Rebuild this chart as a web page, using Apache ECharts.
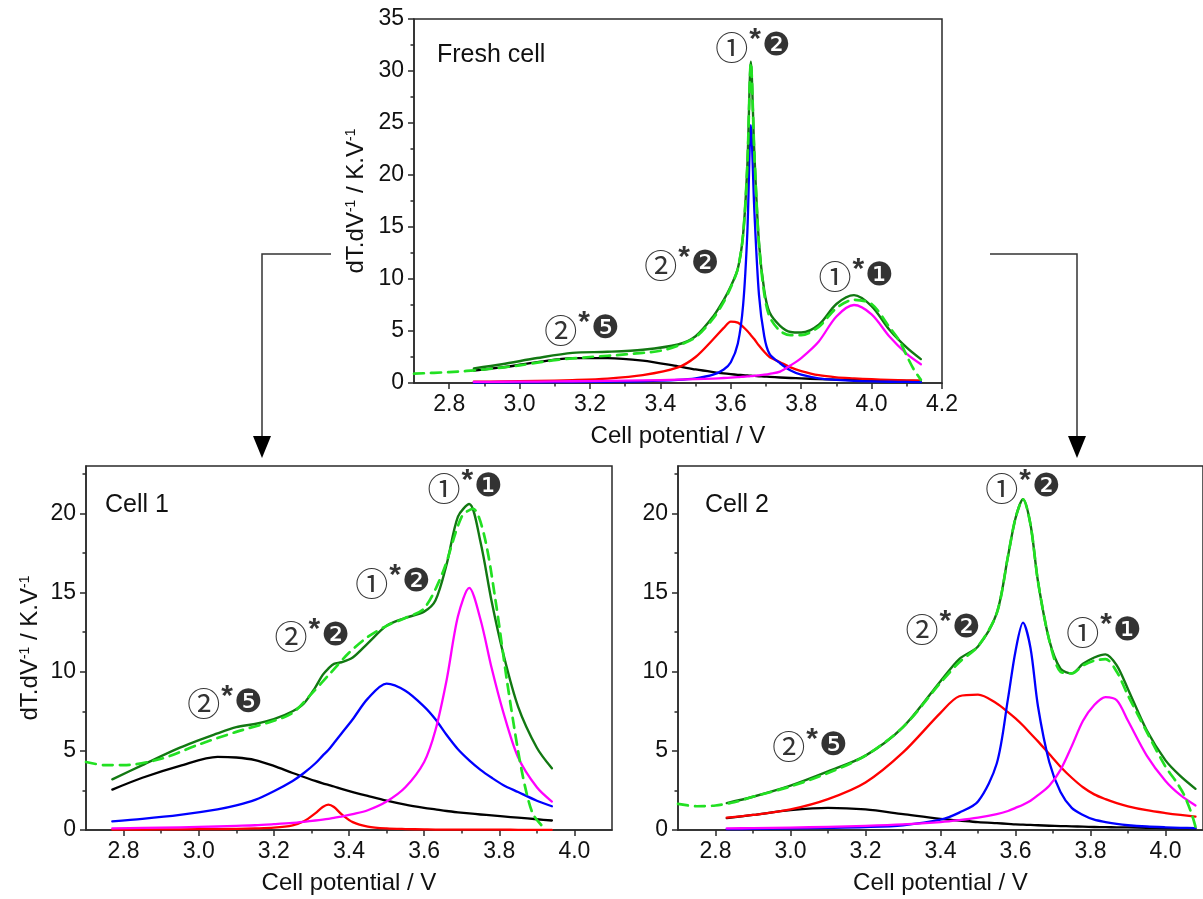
<!DOCTYPE html>
<html><head><meta charset="utf-8">
<script src="https://cdn.jsdelivr.net/npm/echarts@6/dist/echarts.min.js"></script>
<style>html,body{margin:0;padding:0;background:#fff}#c{width:1203px;height:899px}</style>
</head><body><div id="c"></div>
<script>
// ---------- Fresh cell ----------
const freshX = [2.87,2.95,3.05,3.15,3.25,3.35,3.45,3.5,3.55,3.58,3.6,3.62,3.635,3.647,3.657,3.667,3.68,3.695,3.71,3.74,3.77,3.8,3.85,3.9,3.95,4.0,4.05,4.1,4.14];
const freshSum     = [1.4,1.8,2.4,2.9,3.0,3.2,3.7,4.5,6.4,8.0,9.3,11,14.3,20.9,30.9,22,13.5,8.9,6.8,5.5,4.9,4.85,5.6,7.6,8.45,7.4,5.15,3.4,2.3];
const freshBlack   = [1.2,1.5,2.0,2.4,2.4,2.15,1.6,1.3,1.05,0.92,0.85,0.79,0.75,0.72,0.7,0.68,0.65,0.62,0.59,0.53,0.48,0.44,0.38,0.33,0.29,0.26,0.23,0.21,0.19];
const freshRed     = [0.12,0.15,0.2,0.28,0.42,0.75,1.5,2.5,4.2,5.3,5.9,5.8,5.4,5.0,4.6,4.2,3.6,3.0,2.5,2.0,1.5,1.15,0.75,0.55,0.45,0.36,0.3,0.26,0.22];
const freshBlue    = [0.05,0.06,0.07,0.09,0.12,0.17,0.3,0.45,0.8,1.3,2.0,3.8,7.5,14.5,24.8,16.5,8.5,4.5,2.8,1.9,1.2,0.8,0.45,0.3,0.2,0.15,0.12,0.1,0.08];
const freshMagenta = [0.1,0.12,0.14,0.17,0.2,0.25,0.32,0.37,0.43,0.48,0.52,0.56,0.6,0.63,0.66,0.69,0.74,0.8,0.88,1.1,1.7,2.4,4.0,6.4,7.5,6.6,4.5,2.8,1.8];
const freshExpX = [2.7,2.8,2.9,3.0,3.1,3.2,3.3,3.4,3.45,3.5,3.55,3.58,3.6,3.62,3.635,3.647,3.657,3.667,3.68,3.695,3.71,3.74,3.77,3.8,3.85,3.9,3.95,4.0,4.05,4.08,4.1,4.12,4.14];
const freshExp  = [0.9,1.05,1.3,1.7,2.2,2.5,2.75,3.1,3.6,4.4,6.2,7.8,9.2,11,14.3,21,30.8,22,13.4,8.6,6.4,5.0,4.6,4.6,5.4,7.2,8.0,7.6,5.4,4.0,2.6,1.3,0.3];

// ---------- Cell 1 ----------
const c1X = [2.77,2.85,2.95,3.05,3.1,3.15,3.2,3.25,3.28,3.31,3.33,3.345,3.36,3.38,3.41,3.45,3.5,3.55,3.6,3.63,3.66,3.69,3.72,3.75,3.78,3.81,3.85,3.9,3.94];
const c1Sum     = [3.2,4.1,5.2,6.1,6.5,6.7,7.0,7.5,8.0,9.0,9.8,10.2,10.5,10.6,10.9,11.8,12.9,13.4,13.8,14.5,16.8,19.8,20.6,18.2,14.4,11.2,7.8,5.2,3.9];
const c1Black   = [2.55,3.3,4.05,4.62,4.58,4.42,4.05,3.6,3.35,3.1,2.95,2.85,2.75,2.6,2.4,2.15,1.85,1.6,1.4,1.3,1.2,1.12,1.05,0.98,0.92,0.86,0.78,0.68,0.6];
const c1Blue    = [0.55,0.7,0.95,1.3,1.55,1.9,2.45,3.1,3.6,4.2,4.7,5.05,5.5,6.1,7.0,8.3,9.25,8.8,7.8,7.0,6.0,5.1,4.4,3.8,3.3,2.85,2.4,1.85,1.5];
const c1Red     = [0.02,0.03,0.04,0.06,0.07,0.1,0.15,0.3,0.55,1.05,1.45,1.6,1.45,1.0,0.5,0.22,0.1,0.06,0.04,0.03,0.03,0.02,0.02,0.02,0.02,0.02,0.01,0.01,0.01];
const c1Magenta = [0.1,0.13,0.17,0.22,0.26,0.3,0.37,0.45,0.52,0.6,0.66,0.71,0.77,0.85,1.0,1.25,1.8,2.7,4.3,6.3,9.5,13.5,15.3,13.3,10.2,7.5,4.6,2.7,1.8];
const c1ExpX = [2.7,2.75,2.8,2.9,3.0,3.1,3.2,3.25,3.3,3.35,3.4,3.45,3.5,3.55,3.6,3.65,3.7,3.73,3.76,3.79,3.82,3.85,3.87,3.89,3.92];
const c1Exp  = [4.3,4.1,4.1,4.5,5.4,6.2,6.9,7.4,8.6,9.9,11.2,12.2,12.9,13.4,14.0,16.3,19.8,20.3,18.6,14.5,9.5,5.0,2.6,1.0,0.1];

// ---------- Cell 2 ----------
const c2X = [2.83,2.9,3.0,3.1,3.2,3.3,3.4,3.45,3.5,3.55,3.58,3.6,3.62,3.64,3.66,3.69,3.72,3.75,3.78,3.81,3.84,3.87,3.9,3.95,4.0,4.04,4.08];
const c2Sum     = [1.7,2.1,2.8,3.7,4.7,6.5,9.4,10.8,11.6,13.7,17.3,19.7,20.9,19.3,15.7,12.0,10.2,9.9,10.5,10.9,11.1,10.4,8.9,6.3,4.4,3.4,2.6];
const c2Black   = [0.75,0.95,1.25,1.4,1.3,1.0,0.7,0.6,0.5,0.43,0.39,0.36,0.34,0.32,0.3,0.27,0.25,0.23,0.21,0.19,0.18,0.17,0.16,0.14,0.12,0.11,0.1];
const c2Red     = [0.78,0.95,1.3,1.95,3.0,4.9,7.4,8.45,8.55,8.0,7.45,7.05,6.6,6.1,5.6,4.8,4.0,3.3,2.7,2.25,1.95,1.7,1.5,1.25,1.07,0.95,0.85];
const c2Blue    = [0.05,0.07,0.1,0.13,0.18,0.3,0.65,1.1,1.8,4.2,8.3,11.3,13.1,11.5,7.8,4.3,2.4,1.4,0.95,0.65,0.5,0.38,0.3,0.22,0.17,0.14,0.12];
const c2Magenta = [0.1,0.12,0.15,0.2,0.26,0.35,0.5,0.62,0.78,1.0,1.2,1.4,1.6,1.85,2.2,2.8,3.8,5.3,6.9,7.9,8.4,8.2,6.9,4.7,3.1,2.2,1.55];
const c2ExpX = [2.7,2.75,2.8,2.85,2.9,3.0,3.1,3.2,3.3,3.4,3.45,3.5,3.55,3.58,3.6,3.62,3.64,3.66,3.69,3.72,3.75,3.78,3.81,3.84,3.87,3.9,3.95,4.0,4.03,4.05,4.07,4.08];
const c2Exp  = [1.65,1.5,1.55,1.75,2.1,2.75,3.6,4.7,6.5,9.3,10.6,11.6,13.7,17.3,19.7,20.9,19.3,15.7,12.0,10.0,9.9,10.4,10.7,10.8,10.0,8.5,6.2,4.0,3.0,2.2,1.0,0.2];

// ---------- ticks & labels ----------
const xMajorTop = [2.8,3.0,3.2,3.4,3.6,3.8,4.0,4.2];
const xMinorTop = [2.9,3.1,3.3,3.5,3.7,3.9,4.1];
const xMajorBot = [2.8,3.0,3.2,3.4,3.6,3.8,4.0];
const xMinorBot = [2.9,3.1,3.3,3.5,3.7,3.9];
const yMajorTop = [0,5,10,15,20,25,30,35];
const yMinorTop = [2.5,7.5,12.5,17.5,22.5,27.5,32.5];
const yMajorBot = [0,5,10,15,20];
const yMinorBot = [2.5,7.5,12.5,17.5,22.5];
const panelTitles = ['Fresh cell','Cell 1','Cell 2'];
const xTitle = 'Cell potential / V';
const yTitle = 'dT.dV{sup|-1} / K.V{sup|-1}';
// annotations: [x, y, first circled digit, second (filled) digit]
const notesFresh = [[3.663,32.3,'①','❷'],[3.461,11.35,'②','❷'],[3.956,10.2,'①','❶'],[3.177,5.1,'②','❺']];
const notesC1 = [[3.709,21.6,'①','❶'],[3.517,15.6,'①','❷'],[3.302,12.2,'②','❷'],[3.07,7.97,'②','❺']];
const notesC2 = [[3.62,21.6,'①','❷'],[3.407,12.7,'②','❷'],[3.836,12.5,'①','❶'],[3.052,5.25,'②','❺']];

const FONT = 'Liberation Sans, Arial, sans-serif';
const AX = '#2a2a2a';
const grids = [
  {left:414, top:19, width:528, height:364},
  {left:86, top:466, width:526, height:364},
  {left:678, top:466, width:526, height:364}
];
const xr = [[2.7,4.2],[2.7,4.1],[2.7,4.1]];
const yr = [[0,35],[0,23],[0,23]];

function mainX(i, major){
  return {gridIndex:i, type:'value', position:'bottom', min:xr[i][0], max:xr[i][1],
    name:xTitle, nameLocation:'middle', nameGap:41,
    nameTextStyle:{fontFamily:FONT, fontSize:24, color:'#111'},
    axisLine:{show:true, onZero:false, lineStyle:{color:AX, width:1.5}},
    axisTick:{show:true, length:6, customValues:major, lineStyle:{color:AX, width:1.5}},
    axisLabel:{show:true, customValues:major, margin:10, fontFamily:FONT, fontSize:23, color:'#111',
      formatter:v=>v.toFixed(1)},
    splitLine:{show:false}};
}
function minorX(i, minor){
  return {gridIndex:i, type:'value', position:'bottom', min:xr[i][0], max:xr[i][1],
    axisLine:{show:false, onZero:false}, axisLabel:{show:false}, splitLine:{show:false},
    axisTick:{show:true, length:3.5, customValues:minor, lineStyle:{color:AX, width:1.5}}};
}
function mainY(i, major, withName, gap){
  return {gridIndex:i, type:'value', position:'left', min:yr[i][0], max:yr[i][1],
    name: withName ? yTitle : '', nameLocation:'middle', nameGap:gap, nameRotate:90,
    nameTextStyle:{fontFamily:FONT, fontSize:24, color:'#111',
      rich:{sup:{fontFamily:FONT, fontSize:14, color:'#111', verticalAlign:'top', lineHeight:20, padding:[0,0,12,0]}}},
    axisLine:{show:true, onZero:false, lineStyle:{color:AX, width:1.5}},
    axisTick:{show:true, length:6, customValues:major, lineStyle:{color:AX, width:1.5}},
    axisLabel:{show:true, customValues:major, margin:10, fontFamily:FONT, fontSize:23, color:'#111'},
    splitLine:{show:false}};
}
function minorY(i, minor){
  return {gridIndex:i, type:'value', position:'left', min:yr[i][0], max:yr[i][1],
    axisLine:{show:false, onZero:false}, axisLabel:{show:false}, splitLine:{show:false},
    axisTick:{show:true, length:3.5, customValues:minor, lineStyle:{color:AX, width:1.5}}};
}
function pairs(xs, ys){ return xs.map((x,k)=>[x, ys[k]]); }
function line(i, xs, ys, color, width, dashed){
  return {type:'line', xAxisIndex:i, yAxisIndex:i, data:pairs(xs, ys), showSymbol:false, symbol:'none',
    smooth:0.3, silent:true, animation:false,
    lineStyle:{color:color, width:width, type: dashed ? [10,7] : 'solid', cap:'round', join:'round'}, z: dashed ? 5 : 3};
}
function notes(i, arr){
  return {type:'scatter', xAxisIndex:i, yAxisIndex:i, silent:true, animation:false, symbolSize:1,
    itemStyle:{color:'rgba(0,0,0,0)'}, z:10,
    data:arr.map(a=>({value:[a[0],a[1]], c:a[2], n:a[3]})),
    label:{show:true, position:'inside', align:'center', verticalAlign:'middle',
      formatter:p=>'{c|'+p.data.c+'}{s|*}{n|'+p.data.n+'}',
      rich:{
        c:{fontFamily:'Noto Sans CJK JP', fontSize:33, color:'#000', lineHeight:34},
        s:{fontFamily:FONT, fontSize:30, fontWeight:'bold', color:'#000', lineHeight:34, padding:[0,1,14,1]},
        n:{fontFamily:'DejaVu Sans', fontSize:32, color:'#000', lineHeight:34}
      }}};
}
const GREEN = '#127812', LGREEN = '#22e022';
function panel(i, xs, sum, blk, red, blue, mag, ex, ey){
  return [
    line(i, xs, blk, '#000000', 2.3),
    line(i, xs, red, '#ff0000', 2.3),
    line(i, xs, blue, '#0000ff', 2.3),
    line(i, xs, mag, '#ff00ff', 2.3),
    line(i, xs, sum, GREEN, 2.4),
    line(i, ex, ey, LGREEN, 2.7, true)
  ];
}

const chart = echarts.init(document.getElementById('c'), null, {renderer:'canvas'});
chart.setOption({
  animation:false,
  backgroundColor:'#fff',
  title:[
    {text:panelTitles[0], left:437, top:43, padding:0, textStyle:{fontFamily:FONT, fontSize:25, fontWeight:'normal', color:'#111'}},
    {text:panelTitles[1], left:105, top:493, padding:0, textStyle:{fontFamily:FONT, fontSize:25, fontWeight:'normal', color:'#111'}},
    {text:panelTitles[2], left:705, top:493, padding:0, textStyle:{fontFamily:FONT, fontSize:25, fontWeight:'normal', color:'#111'}}
  ],
  grid: grids.map(g=>Object.assign({show:true, borderColor:AX, borderWidth:1.5, backgroundColor:'transparent', containLabel:false}, g)),
  xAxis:[mainX(0,xMajorTop), mainX(1,xMajorBot), mainX(2,xMajorBot), minorX(0,xMinorTop), minorX(1,xMinorBot), minorX(2,xMinorBot)],
  yAxis:[mainY(0,yMajorTop,true,46), mainY(1,yMajorBot,true,44), mainY(2,yMajorBot,false,40), minorY(0,yMinorTop), minorY(1,yMinorBot), minorY(2,yMinorBot)],
  series:[].concat(
    panel(0, freshX, freshSum, freshBlack, freshRed, freshBlue, freshMagenta, freshExpX, freshExp),
    panel(1, c1X, c1Sum, c1Black, c1Red, c1Blue, c1Magenta, c1ExpX, c1Exp),
    panel(2, c2X, c2Sum, c2Black, c2Red, c2Blue, c2Magenta, c2ExpX, c2Exp),
    [notes(0, notesFresh), notes(1, notesC1), notes(2, notesC2)]
  ),
  graphic:[
    {type:'polyline', shape:{points:[[331,254],[262,254],[262,438]]}, style:{stroke:'#333', lineWidth:1.5, fill:null}},
    {type:'polygon', shape:{points:[[253,436],[271,436],[262,458]]}, style:{fill:'#000'}},
    {type:'polyline', shape:{points:[[990,254],[1077,254],[1077,438]]}, style:{stroke:'#333', lineWidth:1.5, fill:null}},
    {type:'polygon', shape:{points:[[1068,436],[1086,436],[1077,458]]}, style:{fill:'#000'}}
  ]
});
</script></body></html>
